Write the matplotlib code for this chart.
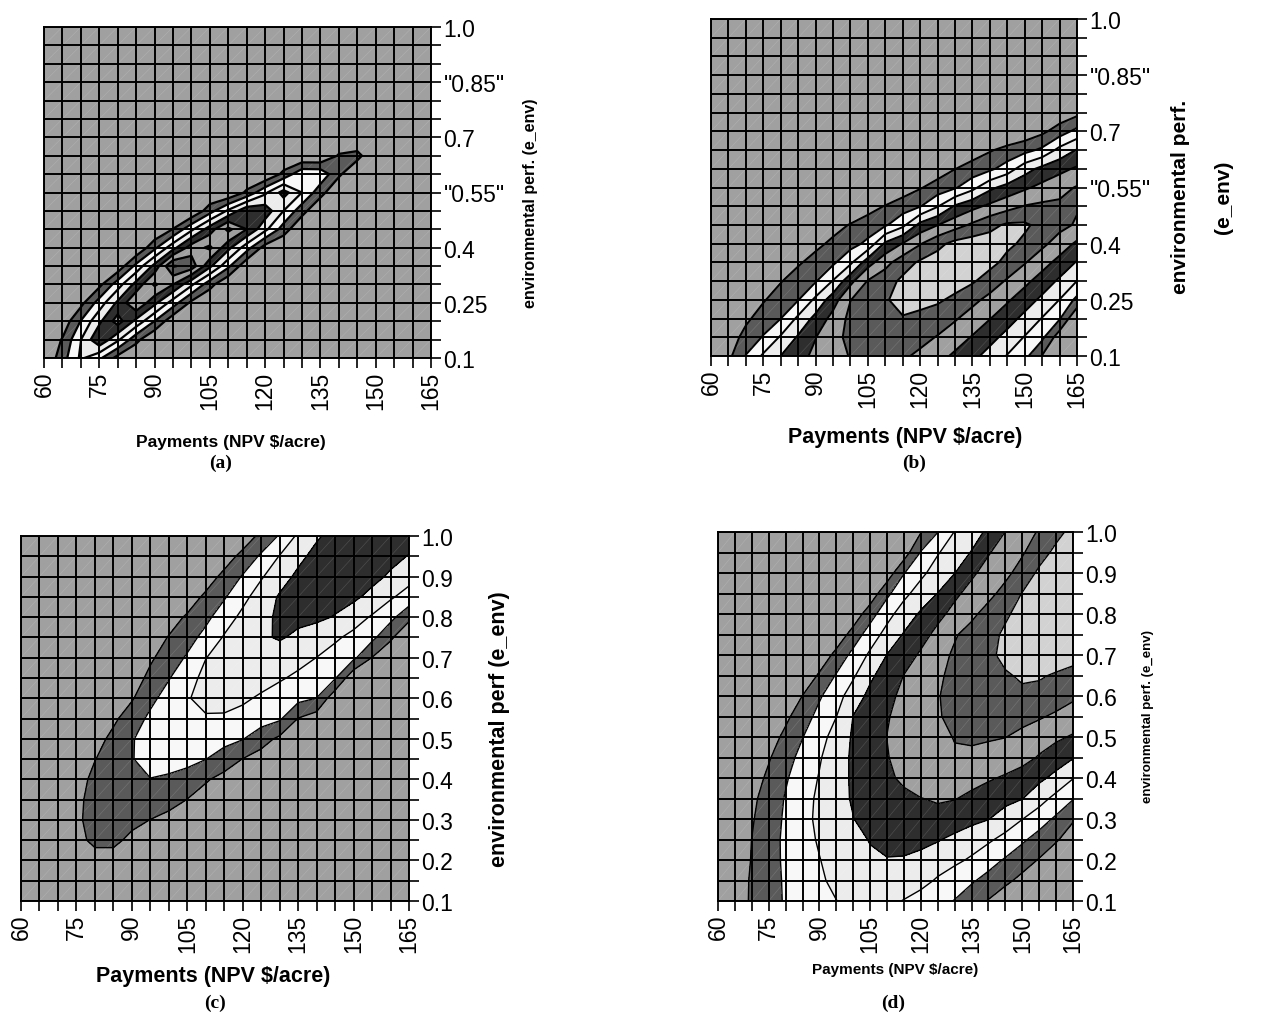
import numpy as np
import matplotlib
matplotlib.use('Agg')
import matplotlib.pyplot as plt
from matplotlib.collections import LineCollection

# 坐标类别（Excel 曲面图的分类轴）
payments = [60, 65, 70, 75, 80, 85, 90, 95, 100, 105, 110,
            115, 120, 125, 130, 135, 140, 145, 150, 155, 160, 165]
env_perf = [0.10, 0.15, 0.20, 0.25, 0.30, 0.35, 0.40, 0.45, 0.50, 0.55,
            0.60, 0.65, 0.70, 0.75, 0.80, 0.85, 0.90, 0.95, 1.00]

x_tick_labels = ['60', '75', '90', '105', '120', '135', '150', '165']
y_tick_labels_ab = ['0.1', '0.25', '0.4', '"0.55"', '0.7', '"0.85"', '1.0']
y_tick_labels_cd = ['0.1', '0.2', '0.3', '0.4', '0.5', '0.6', '0.7', '0.8', '0.9', '1.0']

# 等值带（单位 = 色带序号）
band_levels = [-1, 1, 2, 3, 4, 5, 6, 7, 9]
band_colors = ['#a0a0a0', '#5a5a5a', '#f8f8f8', '#ececec',
               '#2e2e2e', '#a0a0a0', '#5a5a5a', '#d2d2d2']

Z0 = [0] * 22

# (a) 每行对应 env_perf 的一个值，从 0.1 到 1.0
surface_a = [
    [0, 1.58, 3.18, 2.22, 0.62, 0, 0, 0, 0, 0, 0, 0, 0, 0, 0, 0, 0, 0, 0, 0, 0, 0],
    [0, 1.08, 2.98, 4.89, 3.21, 1.3, 0, 0, 0, 0, 0, 0, 0, 0, 0, 0, 0, 0, 0, 0, 0, 0],
    [0, 0.3, 2.05, 3.79, 5.47, 3.72, 1.98, 0.23, 0, 0, 0, 0, 0, 0, 0, 0, 0, 0, 0, 0, 0, 0],
    [0, 0, 0.68, 2.44, 4.2, 5.96, 4.27, 2.51, 0.75, 0, 0, 0, 0, 0, 0, 0, 0, 0, 0, 0, 0, 0],
    [0, 0, 0, 0.71, 2.53, 4.35, 6.17, 5.01, 3.19, 1.36, 0, 0, 0, 0, 0, 0, 0, 0, 0, 0, 0, 0],
    [0, 0, 0, 0, 0.27, 2.29, 4.31, 7.1, 6.6, 4.23, 2.21, 0.19, 0, 0, 0, 0, 0, 0, 0, 0, 0, 0],
    [0, 0, 0, 0, 0, 0, 1.75, 3.64, 5.52, 6.2, 4.31, 2.43, 0.55, 0, 0, 0, 0, 0, 0, 0, 0, 0],
    [0, 0, 0, 0, 0, 0, 0, 1.03, 2.78, 4.52, 6.26, 5.0, 3.26, 1.52, 0, 0, 0, 0, 0, 0, 0, 0],
    [0, 0, 0, 0, 0, 0, 0, 0, 0, 1.58, 3.19, 4.79, 4.6, 2.99, 1.39, 0, 0, 0, 0, 0, 0, 0],
    [0, 0, 0, 0, 0, 0, 0, 0, 0, 0, 0, 1.19, 2.8, 4.4, 2.99, 1.39, 0, 0, 0, 0, 0, 0],
    [0, 0, 0, 0, 0, 0, 0, 0, 0, 0, 0, 0, 0, 1.26, 2.77, 2.71, 1.2, 0, 0, 0, 0, 0],
    [0, 0, 0, 0, 0, 0, 0, 0, 0, 0, 0, 0, 0, 0, 0, 0, 1.11, 1.34, 0, 0, 0, 0],
    Z0, Z0, Z0, Z0, Z0, Z0, Z0,
]

surface_b = [
    [0, 0.74, 2.05, 3.16, 4.01, 4.67, 5.22, 5.65, 6.05, 6.2, 6.25, 6.15, 5.8, 5.33, 4.83, 4.27, 3.63, 2.94, 2.3, 0.95, 0.2, 0],
    [0, 0.5, 1.31, 2.08, 3.12, 4.12, 4.97, 5.75, 6.2, 6.45, 6.55, 6.45, 6.3, 5.94, 5.44, 4.93, 4.33, 3.68, 2.94, 2.22, 0.4, 0],
    [0, 0.2, 0.82, 1.41, 1.99, 3.21, 4.3, 5.34, 6.25, 6.55, 6.8, 6.95, 6.75, 6.5, 6.1, 5.57, 5.03, 4.41, 3.72, 2.95, 2.09, 0],
    [0, 0, 0.4, 0.92, 1.44, 1.96, 3.22, 4.54, 5.98, 6.46, 6.93, 7.25, 7.3, 7.15, 6.77, 6.26, 5.71, 5.13, 4.48, 3.78, 2.98, 1.73],
    [0, 0, 0, 0.47, 0.95, 1.44, 1.92, 3.06, 4.71, 6.07, 6.6, 7.2, 7.5, 7.6, 7.45, 7.12, 6.53, 5.88, 5.25, 4.57, 3.83, 2.99],
    [0, 0, 0, 0, 0.42, 0.88, 1.34, 1.81, 2.78, 4.57, 5.67, 6.55, 7.15, 7.45, 7.6, 7.55, 7.3, 6.72, 6.07, 5.39, 4.68, 3.92],
    [0, 0, 0, 0, 0, 0.32, 0.76, 1.2, 1.64, 2.22, 4.19, 5.05, 5.93, 6.72, 7.3, 7.5, 7.45, 7.2, 6.81, 6.23, 5.56, 4.82],
    [0, 0, 0, 0, 0, 0, 0.26, 0.66, 1.06, 1.46, 1.86, 2.73, 4.32, 4.97, 5.59, 6.17, 6.72, 7.15, 7.15, 6.71, 6.3, 5.88],
    [0, 0, 0, 0, 0, 0, 0, 0, 0.17, 0.61, 1.05, 1.5, 1.94, 2.93, 4.12, 4.71, 5.21, 5.64, 6.05, 6.2, 6.2, 6.1],
    [0, 0, 0, 0, 0, 0, 0, 0, 0, 0, 0, 0.45, 0.92, 1.4, 1.88, 2.7, 3.77, 4.37, 4.84, 5.27, 5.67, 6.08],
    [0, 0, 0, 0, 0, 0, 0, 0, 0, 0, 0, 0, 0.16, 0.5, 0.98, 1.38, 1.79, 2.46, 3.58, 4.29, 4.72, 5.14],
    [0, 0, 0, 0, 0, 0, 0, 0, 0, 0, 0, 0, 0, 0, 0.14, 0.52, 0.91, 1.29, 1.68, 2.2, 3.31, 4.07],
    [0, 0, 0, 0, 0, 0, 0, 0, 0, 0, 0, 0, 0, 0, 0, 0, 0, 0.1, 0.3, 0.77, 1.49, 2.3],
    [0, 0, 0, 0, 0, 0, 0, 0, 0, 0, 0, 0, 0, 0, 0, 0, 0, 0, 0, 0, 0.3, 0.7],
    Z0, Z0, Z0, Z0, Z0,
]

surface_c = [
    Z0,
    Z0,
    [0, 0, 0, 0, 0.4, 0.4, 0, 0, 0, 0, 0, 0, 0, 0, 0, 0, 0, 0, 0, 0, 0, 0],
    [0, 0, 0, 0.55, 1.35, 1.35, 0.65, 0.2, 0, 0, 0, 0, 0, 0, 0, 0, 0, 0, 0, 0, 0, 0],
    [0, 0, 0.2, 0.8, 1.4, 1.6, 1.4, 0.98, 0.6, 0.2, 0, 0, 0, 0, 0, 0, 0, 0, 0, 0, 0, 0],
    [0, 0, 0.3, 0.8, 1.3, 1.6, 1.8, 1.8, 1.5, 0.98, 0.6, 0.2, 0, 0, 0, 0, 0, 0, 0, 0, 0, 0],
    [0, 0, 0.2, 0.6, 1.25, 1.6, 1.9, 1.98, 1.85, 1.6, 1.1, 0.7, 0.3, 0, 0, 0, 0, 0, 0, 0, 0, 0],
    [0, 0, 0.1, 0.4, 0.97, 1.47, 1.96, 2.3, 2.4, 2.3, 2.02, 1.5, 0.98, 0.6, 0.2, 0, 0, 0, 0, 0, 0, 0],
    [0, 0, 0, 0.1, 0.6, 1.27, 1.95, 2.3, 2.5, 2.6, 2.55, 2.35, 2.05, 1.4, 0.8, 0.4, 0.1, 0, 0, 0, 0, 0],
    [0, 0, 0, 0, 0.2, 0.8, 1.52, 2.2, 2.5, 2.75, 2.9, 2.85, 2.7, 2.45, 2.15, 0.97, 0.5, 0.1, 0, 0, 0, 0],
    [0, 0, 0, 0, 0, 0.3, 0.9, 1.75, 2.4, 2.93, 3.3, 3.4, 3.15, 2.87, 2.58, 2.29, 1.99, 0.3, 0, 0, 0, 0],
    [0, 0, 0, 0, 0, 0.1, 0.5, 1.25, 1.94, 2.66, 3.25, 3.45, 3.5, 3.35, 3.1, 2.82, 2.46, 2.09, 0.2, 0, 0, 0],
    [0, 0, 0, 0, 0, 0, 0.2, 0.85, 1.47, 2.12, 2.98, 3.35, 3.55, 3.6, 3.5, 3.3, 2.99, 2.61, 2.21, 0.98, 0.1, 0],
    [0, 0, 0, 0, 0, 0, 0, 0.5, 1.05, 1.62, 2.31, 3.09, 3.47, 3.85, 4.1, 3.8, 3.48, 3.15, 2.74, 2.25, 1.2, 0],
    [0, 0, 0, 0, 0, 0, 0, 0.1, 0.6, 1.12, 1.75, 2.53, 3.24, 3.76, 4.15, 4.25, 4.2, 3.94, 3.43, 2.9, 2.28, 1.29],
    [0, 0, 0, 0, 0, 0, 0, 0, 0.1, 0.5, 1.19, 1.9, 2.72, 3.47, 4.1, 4.35, 4.4, 4.35, 4.2, 3.71, 3.13, 2.6],
    [0, 0, 0, 0, 0, 0, 0, 0, 0, 0.1, 0.5, 1.27, 2.08, 2.9, 3.6, 4.2, 4.45, 4.5, 4.45, 4.3, 3.85, 3.35],
    [0, 0, 0, 0, 0, 0, 0, 0, 0, 0, 0.1, 0.5, 1.3, 2.15, 3.05, 3.75, 4.3, 4.5, 4.5, 4.45, 4.3, 3.95],
    [0, 0, 0, 0, 0, 0, 0, 0, 0, 0, 0, 0.1, 0.4, 1.25, 2.1, 3.18, 3.87, 4.35, 4.55, 4.6, 4.6, 4.5],
]

surface_d = [
    [0, 0.57, 1.11, 1.64, 2.09, 2.39, 2.69, 2.98, 3.25, 3.4, 3.25, 2.95, 2.63, 2.3, 1.96, 1.45, 0.94, 0.43, 0, 0, 0, 0],
    [0, 0.55, 1.1, 1.62, 2.12, 2.47, 2.81, 3.3, 3.6, 3.75, 3.8, 3.6, 3.3, 2.89, 2.5, 2.12, 1.68, 1.21, 0.74, 0.27, 0, 0],
    [0, 0.5, 1.04, 1.64, 2.16, 2.56, 2.97, 3.35, 3.65, 3.85, 3.95, 3.9, 3.7, 3.45, 3.2, 2.87, 2.38, 1.9, 1.42, 0.94, 0.47, 0],
    [0, 0.5, 1.01, 1.62, 2.18, 2.67, 3.1, 3.41, 3.73, 4.05, 4.3, 4.4, 4.3, 4.07, 3.78, 3.47, 3.15, 2.71, 2.16, 1.62, 1.09, 0.6],
    [0, 0.3, 0.91, 1.53, 2.14, 2.71, 3.2, 3.59, 3.98, 4.35, 4.6, 4.75, 4.8, 4.7, 4.5, 4.25, 4.03, 3.54, 3.02, 2.45, 1.83, 1.08],
    [0, 0.13, 0.78, 1.43, 2.07, 2.64, 3.18, 3.69, 4.09, 4.31, 4.53, 4.76, 4.98, 5.1, 5.04, 4.8, 4.54, 4.29, 4.03, 3.39, 2.71, 2.06],
    [0, 0, 0.5, 1.21, 1.9, 2.49, 3.06, 3.64, 4.13, 4.47, 4.8, 5.2, 5.45, 5.55, 5.5, 5.3, 5.1, 4.89, 4.55, 4.21, 3.73, 3.04],
    [0, 0, 0.15, 0.9, 1.63, 2.3, 2.91, 3.58, 4.15, 4.55, 4.95, 5.35, 5.6, 5.8, 5.9, 5.8, 5.65, 5.5, 5.35, 4.91, 4.48, 4.06],
    [0, 0, 0, 0.52, 1.25, 1.97, 2.65, 3.39, 4.12, 4.56, 5.01, 5.26, 5.52, 5.78, 6.04, 6.15, 6.1, 6.02, 5.75, 5.47, 5.18, 4.89],
    [0, 0, 0, 0.1, 0.78, 1.55, 2.3, 2.99, 4.02, 4.48, 4.94, 5.28, 5.6, 5.92, 6.25, 6.45, 6.5, 6.45, 6.3, 6.1, 5.85, 5.6],
    [0, 0, 0, 0, 0.2, 1.02, 1.88, 2.62, 3.49, 4.26, 4.77, 5.21, 5.58, 5.95, 6.3, 6.55, 6.75, 6.9, 6.85, 6.7, 6.45, 6.15],
    [0, 0, 0, 0, 0, 0.2, 1.15, 2.08, 2.87, 3.82, 4.46, 5.02, 5.45, 5.89, 6.18, 6.43, 6.67, 6.92, 7.1, 7.1, 6.9, 6.6],
    [0, 0, 0, 0, 0, 0, 0.27, 1.31, 2.3, 3.17, 4.02, 4.58, 5.13, 5.67, 6.14, 6.49, 6.83, 7.2, 7.4, 7.5, 7.5, 7.45],
    [0, 0, 0, 0, 0, 0, 0, 0.3, 1.42, 2.5, 3.33, 4.08, 4.66, 5.26, 5.91, 6.33, 6.72, 7.15, 7.4, 7.55, 7.6, 7.6],
    [0, 0, 0, 0, 0, 0, 0, 0, 0.35, 1.58, 2.68, 3.46, 4.14, 4.74, 5.29, 5.81, 6.34, 6.87, 7.3, 7.55, 7.65, 7.7],
    [0, 0, 0, 0, 0, 0, 0, 0, 0, 0.35, 1.78, 2.76, 3.42, 4.02, 4.81, 5.32, 5.75, 6.31, 7.04, 7.4, 7.6, 7.7],
    [0, 0, 0, 0, 0, 0, 0, 0, 0, 0, 0.4, 1.96, 2.79, 3.42, 3.98, 4.84, 5.35, 5.77, 6.38, 7.2, 7.5, 7.6],
    [0, 0, 0, 0, 0, 0, 0, 0, 0, 0, 0, 0.47, 2.07, 2.93, 3.49, 4.05, 4.93, 5.43, 5.9, 6.57, 7.25, 7.5],
    [0, 0, 0, 0, 0, 0, 0, 0, 0, 0, 0, 0, 0.96, 1.98, 3.04, 3.58, 4.19, 5.02, 5.55, 6.1, 6.7, 7.3],
]

plt.rcParams['font.family'] = ['Liberation Sans', 'DejaVu Sans']

W, H = 1273, 1020
fig = plt.figure(figsize=(W / 100, H / 100), dpi=100)


def px_axes(left, right, top, bottom):
    """像素框 -> 图坐标"""
    return [left / W, 1 - bottom / H, (right - left) / W, (bottom - top) / H]


def draw_panel(rect, surface, y_labels, contour_lw):
    ax = fig.add_axes(px_axes(*rect))
    X, Y = np.meshgrid(payments, env_perf)
    Z = np.array(surface, dtype=float)
    ax.contourf(X, Y, Z, levels=band_levels, colors=band_colors)

    # Excel 曲面渲染留下的浅色对角线
    segs = []
    for i in range(len(payments) - 1):
        for j in range(len(env_perf) - 1):
            segs.append([(payments[i], env_perf[j]), (payments[i + 1], env_perf[j + 1])])
    ax.add_collection(LineCollection(segs, colors='white', linewidths=0.5, alpha=0.14, zorder=1.5))

    ax.contour(X, Y, Z, levels=band_levels[1:-1], colors='black', linewidths=contour_lw, zorder=2)

    ax.set_xlim(60, 165)
    ax.set_ylim(0.1, 1.0)
    ax.set_xticks(payments)
    ax.set_xticklabels([str(p) if str(p) in x_tick_labels else '' for p in payments], rotation=90)
    ax.yaxis.tick_right()
    ax.set_yticks(env_perf)
    step = (len(env_perf) - 1) // (len(y_labels) - 1)
    ylab = []
    k = 0
    for j in range(len(env_perf)):
        if j % step == 0:
            ylab.append(y_labels[k])
            k += 1
        else:
            ylab.append('')
    ax.set_yticklabels(ylab)
    ax.grid(True, color='black', linewidth=1.4)
    ax.set_axisbelow(False)
    ax.tick_params(direction='out', length=7, width=1.2, labelsize=16.5, colors='black', pad=2)
    for s in ax.spines.values():
        s.set_linewidth(1.4)
    return ax


draw_panel((44, 431, 28, 359), surface_a, y_tick_labels_ab, 1.6)
draw_panel((711, 1077, 20, 357), surface_b, y_tick_labels_ab, 1.4)
draw_panel((21, 409, 537, 902), surface_c, y_tick_labels_cd, 1.0)
draw_panel((718, 1073, 533, 902), surface_d, y_tick_labels_cd, 1.0)


def ftext(x, y, s, size, **kw):
    fig.text(x / W, 1 - y / H, s, ha='center', va='center', fontsize=size, **kw)


xl = 'Payments (NPV \\$/acre)'
ftext(231, 443, xl, 12.5, fontweight='bold')
ftext(530, 203, 'environmental perf. (e_env)', 11.5, fontweight='bold', rotation=90)
ftext(905, 437, xl, 15.5, fontweight='bold')
ftext(1180, 197, 'environmental perf.', 15, fontweight='bold', rotation=90)
ftext(1224, 197, '(e_env)', 15, fontweight='bold', rotation=90)
ftext(213, 977, xl, 15.5, fontweight='bold')
ftext(500, 729, 'environmental perf (e_env)', 15.5, fontweight='bold', rotation=90)
ftext(895, 970, xl, 11, fontweight='bold')
ftext(1148, 717, 'environmental perf. (e_env)', 9.5, fontweight='heavy', rotation=90)

for cx, cy, s in [(221, 463, '(a)'), (914, 463, '(b)'), (215, 1003, '(c)'), (893, 1003, '(d)')]:
    ftext(cx, cy, s, 14, fontweight='bold', family='Liberation Serif')

fig.savefig('out.png', dpi=100, facecolor='white')
